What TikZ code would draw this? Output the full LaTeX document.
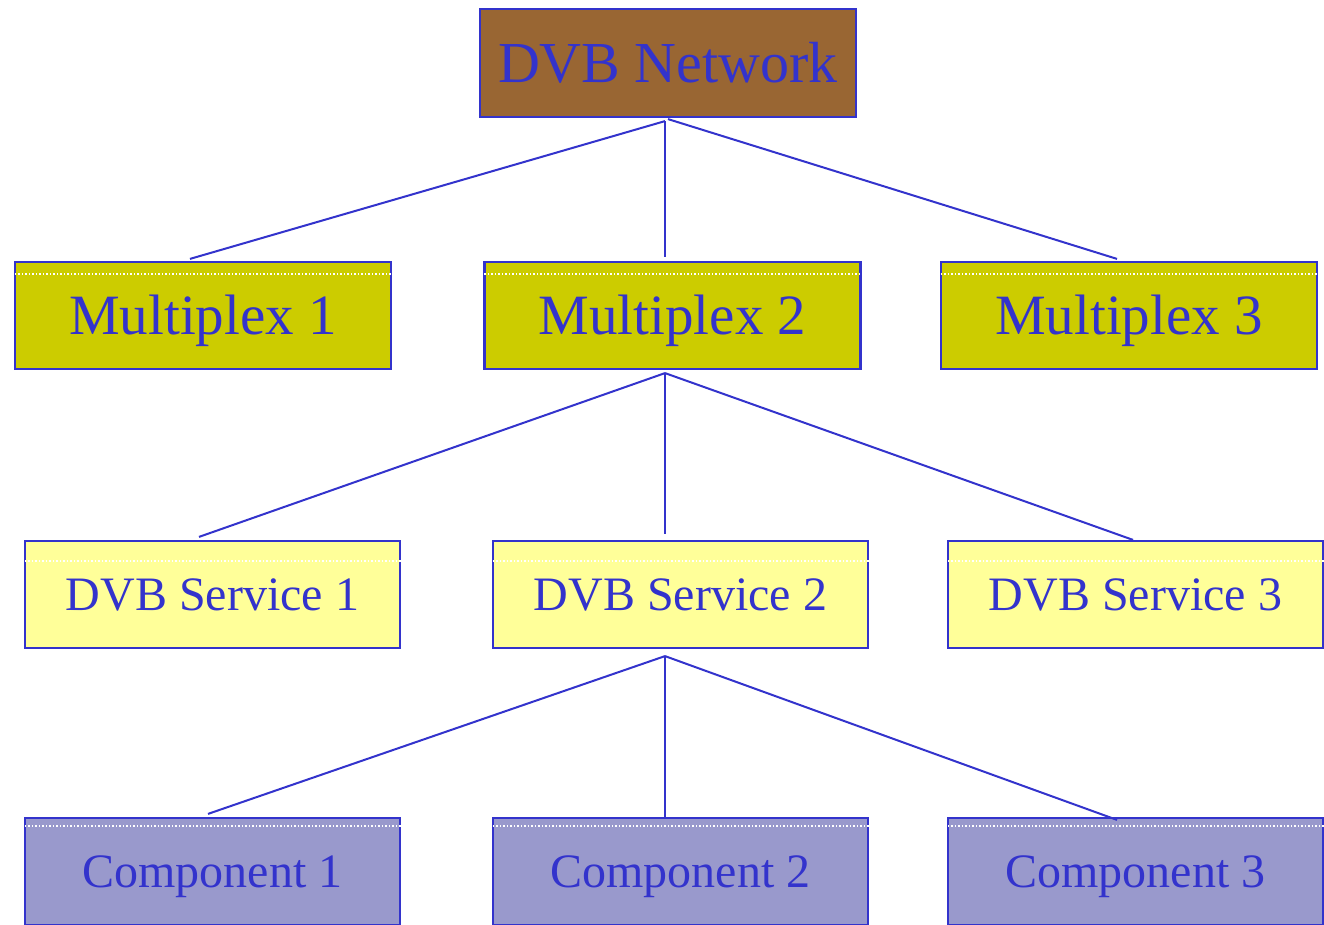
\documentclass[tikz,border=0pt]{standalone}
\usepackage{fontspec}
\setmainfont{Liberation Serif}
\usetikzlibrary{calc}
\definecolor{ink}{HTML}{3333CC}
\definecolor{netfill}{HTML}{996633}
\definecolor{muxfill}{HTML}{CCCC00}
\definecolor{svcfill}{HTML}{FFFF99}
\definecolor{compfill}{HTML}{9999CC}
\tikzset{
  box/.style={draw=ink, line width=2.2pt, text=ink, inner sep=0pt, text depth=0pt},
  netbox/.style={box, fill=netfill, minimum width=376pt, minimum height=108pt,
    font=\fontsize{58}{60}\selectfont, text height=38.3pt},
  muxbox/.style={box, fill=muxfill, minimum width=376pt, minimum height=107pt,
    font=\fontsize{57}{59}\selectfont, text height=37.6pt},
  svcbox/.style={box, fill=svcfill, minimum width=375pt, minimum height=107pt,
    font=\fontsize{48}{50}\selectfont, text height=31.7pt},
  compbox/.style={box, fill=compfill, minimum width=375pt, minimum height=107pt,
    font=\fontsize{48}{50}\selectfont, text height=31.7pt},
  wire/.style={draw=ink, line width=2pt},
  rule/.style={draw=white, line width=1.2pt, dash pattern=on 1.5pt off 2pt}
}
\begin{document}
\begin{tikzpicture}[x=1pt, y=-1pt]
\useasboundingbox (0,0) rectangle (1324,925);

% top level
\node[netbox] (net) at (668,63) {DVB Network};

% multiplexes
\node[muxbox] (m1) at (203,315.5) {Multiplex 1};
\node[muxbox] (m2) at (672.5,315.5) {Multiplex 2};
\node[muxbox] (m3) at (1129,315.5) {Multiplex 3};

% services
\node[svcbox] (s1) at (212.5,594.5) {DVB Service 1};
\node[svcbox] (s2) at (680.5,594.5) {DVB Service 2};
\node[svcbox] (s3) at (1135.5,594.5) {DVB Service 3};

% components
\node[compbox] (c1) at (212.5,871.5) {Component 1};
\node[compbox] (c2) at (680.5,871.5) {Component 2};
\node[compbox] (c3) at (1135.5,871.5) {Component 3};

% dotted highlight lines near the top of the boxes
\foreach \b/\d in {m1/13, m2/13, m3/13, s1/21, s2/21, s3/21, c1/9, c2/9, c3/9}{
  \draw[rule] ($(\b.north west)+(1,\d)$) -- ($(\b.north east)+(1,\d)$);
}

% network to multiplexes
\draw[wire] ([shift={(-3,3)}]net.south) -- ([shift={(-13,-2)}]m1.north);
\draw[wire] ([shift={(-3,3)}]net.south) -- ([shift={(-7.5,-4)}]m2.north);
\draw[wire] ([shift={(0,1)}]net.south) -- ([shift={(-12,-2)}]m3.north);

% multiplex 2 to services
\draw[wire] ([shift={(-7.5,3)}]m2.south) -- ([shift={(-13.5,-3)}]s1.north);
\draw[wire] ([shift={(-7.5,3)}]m2.south) -- ([shift={(-15.5,-6)}]s2.north);
\draw[wire] ([shift={(-7.5,3)}]m2.south) -- ([shift={(-2.5,0)}]s3.north);

% service 2 to components
\draw[wire] ([shift={(-15.5,7)}]s2.south) -- ([shift={(-4.5,-3)}]c1.north);
\draw[wire] ([shift={(-15.5,7)}]s2.south) -- ([shift={(-15.5,0)}]c2.north);
\draw[wire] ([shift={(-15.5,7)}]s2.south) -- ([shift={(-18.5,3)}]c3.north);
\end{tikzpicture}
\end{document}
